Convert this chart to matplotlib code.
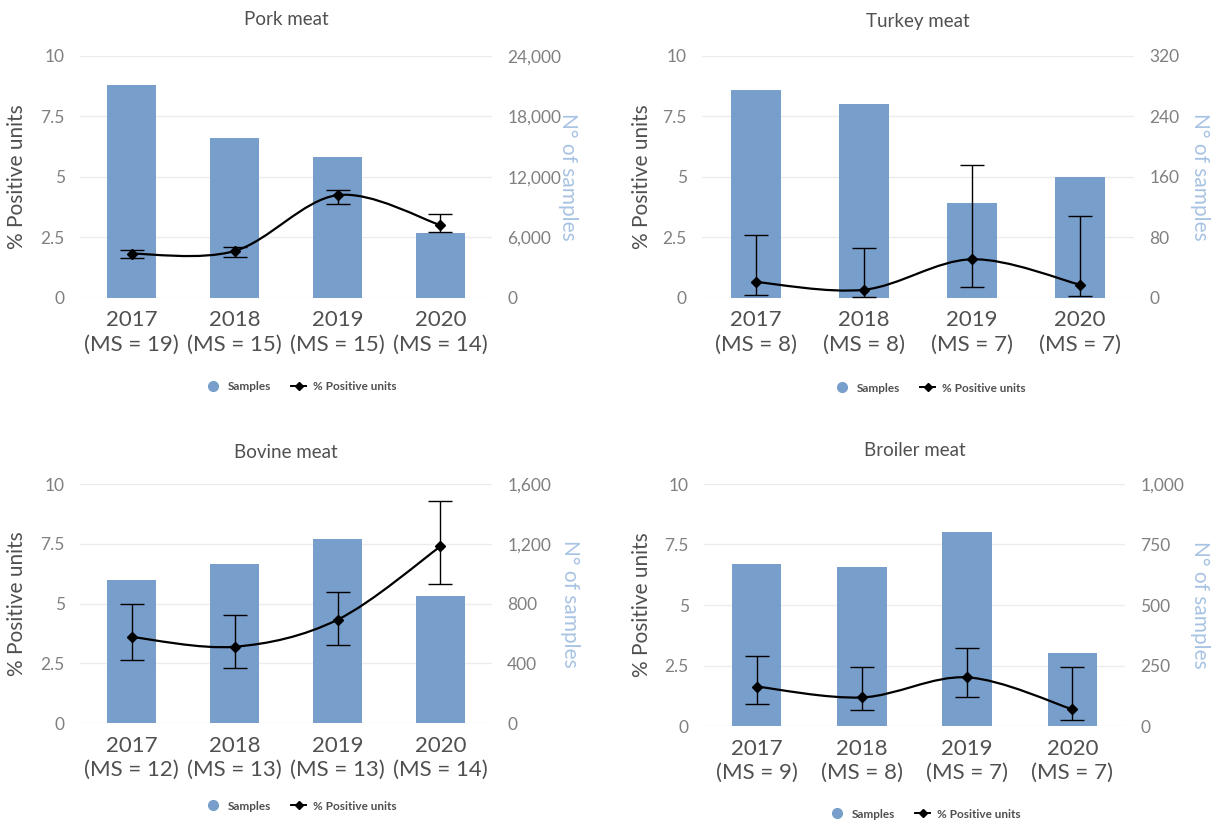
import matplotlib
matplotlib.use('Agg')
import matplotlib.pyplot as plt
from matplotlib.path import Path
from matplotlib.patches import PathPatch
from matplotlib.ticker import FuncFormatter
from matplotlib.lines import Line2D

plt.rcParams['font.family'] = ['Lato', 'DejaVu Sans']

years = ['2017', '2018', '2019', '2020']
left_ticks = [0, 2.5, 5, 7.5, 10]
left_labels = ['0', '2.5', '5', '7.5', '10']

pork_ms = [19, 15, 15, 14]
pork_samples = [21100, 15900, 13950, 6480]
pork_pct = [1.83, 1.94, 4.25, 3.01]
pork_lo = [1.67, 1.70, 3.90, 2.73]
pork_hi = [2.00, 2.11, 4.46, 3.46]

turkey_ms = [8, 8, 7, 7]
turkey_samples = [275, 256, 126, 160]
turkey_pct = [0.66, 0.34, 1.60, 0.55]
turkey_lo = [0.14, 0.04, 0.46, 0.07]
turkey_hi = [2.59, 2.08, 5.48, 3.38]

bovine_ms = [12, 13, 13, 14]
bovine_samples = [955, 1067, 1232, 853]
bovine_pct = [3.60, 3.19, 4.32, 7.39]
bovine_lo = [2.62, 2.30, 3.28, 5.82]
bovine_hi = [4.99, 4.50, 5.49, 9.30]

broiler_ms = [9, 8, 7, 7]
broiler_samples = [668, 658, 803, 300]
broiler_pct = [1.63, 1.18, 2.01, 0.69]
broiler_lo = [0.91, 0.66, 1.21, 0.25]
broiler_hi = [2.91, 2.42, 3.21, 2.42]

BAR = '#789ecb'
RLAB = '#a8c3e3'
TICK = '#808080'
DARK = '#505050'

W, H = 1215, 821
fig = plt.figure(figsize=(W / 100, H / 100), dpi=100)


def smooth_path(xs, ys):
    pts = list(zip(xs, ys))
    verts = [pts[0]]
    codes = [Path.MOVETO]
    n = len(pts)
    for i in range(n - 1):
        p0 = pts[i - 1] if i > 0 else pts[i]
        p1 = pts[i]
        p2 = pts[i + 1]
        p3 = pts[i + 2] if i + 2 < n else pts[i + 1]
        c1 = (p1[0] + (p2[0] - p0[0]) / 6, p1[1] + (p2[1] - p0[1]) / 6)
        c2 = (p2[0] - (p3[0] - p1[0]) / 6, p2[1] - (p3[1] - p1[1]) / 6)
        verts += [c1, c2, p2]
        codes += [Path.CURVE4] * 3
    return Path(verts, codes)


def panel(px, title, ms, samples, pct, lo, hi, rmax, ylx, y2lx, title_dy, leg_xy):
    x0, y0, x1, y1 = px
    rect = [x0 / W, 1 - y1 / H, (x1 - x0) / W, (y1 - y0) / H]
    ax = fig.add_axes(rect)
    ax2 = ax.twinx()
    ax.set_zorder(ax2.get_zorder() + 1)
    ax.patch.set_visible(False)
    xs = list(range(len(years)))

    ax2.bar(xs, samples, width=0.47, color=BAR, zorder=2)
    ax2.set_ylim(0, rmax)
    ax2.set_yticks([rmax * k / 4 for k in range(5)])
    ax2.yaxis.set_major_formatter(FuncFormatter(lambda v, p: f"{int(round(v)):,}"))
    ax2.grid(axis='y', color='#ececec', linewidth=1.0, zorder=0)
    ax2.set_axisbelow(True)

    ax.add_patch(PathPatch(smooth_path(xs, pct), fill=False, edgecolor='black',
                           linewidth=1.6, zorder=3))
    yerr = [[p - l for p, l in zip(pct, lo)], [h - p for p, h in zip(pct, hi)]]
    ax.errorbar(xs, pct, yerr=yerr, fmt='D', color='black', markersize=5,
                ecolor='black', elinewidth=1.0, capsize=8.3, capthick=1.0, zorder=4)
    ax.set_ylim(0, 10)
    ax.set_yticks(left_ticks)
    ax.set_yticklabels(left_labels)
    ax.set_xlim(-0.5, len(years) - 0.5)
    ax2.set_xlim(-0.5, len(years) - 0.5)
    ax.set_xticks(xs)
    ax.set_xticklabels([f"{y}\n(MS = {m})" for y, m in zip(years, ms)],
                       fontsize=16, color=DARK, linespacing=1.25)

    for a in (ax, ax2):
        for s in a.spines.values():
            s.set_visible(False)
    ax.tick_params(axis='y', length=0, pad=11, labelsize=12.5, labelcolor=TICK)
    ax.tick_params(axis='x', length=0, pad=9)
    ax2.tick_params(axis='y', length=0, pad=11, labelsize=12.5, labelcolor=TICK)

    ax.set_ylabel('% Positive units', fontsize=15, color=DARK)
    ax.yaxis.set_label_coords(ylx, 0.5)
    ax2.set_ylabel('N° of samples', fontsize=15, color=RLAB, rotation=-90, va='center')
    ax2.yaxis.set_label_coords(y2lx, 0.5)

    ax.text(0.5, 1 + title_dy / (y1 - y0), title, transform=ax.transAxes,
            ha='center', va='center', fontsize=13.5, color=DARK)

    handles = [Line2D([], [], marker='o', linestyle='none', color=BAR, markersize=7,
                      label='Samples'),
               Line2D([], [], marker='D', color='black', markersize=4, linewidth=1.4,
                      label='% Positive units')]
    fig.legend(handles=handles, loc='center', ncol=2, frameon=False,
               prop={'size': 8.5, 'weight': 'bold'},
               bbox_to_anchor=(leg_xy[0] / W, 1 - leg_xy[1] / H),
               handlelength=1.3, handletextpad=0.6, columnspacing=1.7, labelcolor=DARK)


panel((80, 56, 492, 298), 'Pork meat', pork_ms, pork_samples, pork_pct, pork_lo, pork_hi,
      24000, -0.129, 1.184, 36, (301, 387))
panel((702, 56, 1134, 298), 'Turkey meat', turkey_ms, turkey_samples, turkey_pct, turkey_lo,
      turkey_hi, 320, -0.116, 1.153, 34, (930, 388))
panel((80, 484, 492, 723), 'Bovine meat', bovine_ms, bovine_samples, bovine_pct, bovine_lo,
      bovine_hi, 1600, -0.129, 1.189, 32, (301, 806))
panel((704, 484, 1125, 726), 'Broiler meat', broiler_ms, broiler_samples, broiler_pct,
      broiler_lo, broiler_hi, 1000, -0.124, 1.178, 34, (925, 814))

fig.savefig('out.png', dpi=100)
